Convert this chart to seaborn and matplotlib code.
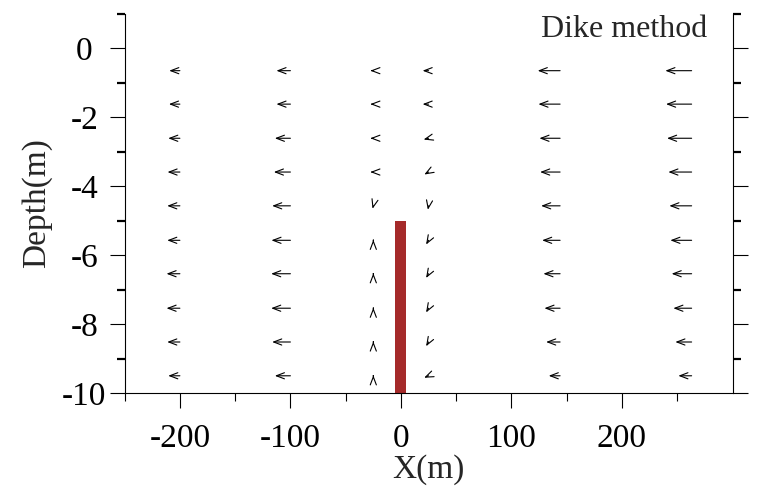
import matplotlib
matplotlib.use("Agg")
import matplotlib.pyplot as plt
import seaborn as sns
from matplotlib.ticker import FixedLocator

# ---- data -------------------------------------------------------------
x_cols = [-200, -100, -25, 25, 144, 263]
depths = [-0.65, -1.62, -2.61, -3.59, -4.57, -5.57, -6.54, -7.54, -8.52, -9.50]

# displacement vectors (horizontal u, vertical v) per column, top row first
u_c1 = [-10.7, -11.0, -11.7, -12.4, -12.7, -12.7, -13.4, -13.4, -12.7, -11.7]
v_c1 = [0, 0, 0, 0, 0, 0, 0, 0, 0, 0]
u_c2 = [-14.0, -14.0, -15.6, -16.6, -18.3, -19.0, -19.3, -19.3, -18.3, -15.6]
v_c2 = [0, 0, 0, 0, 0, 0, 0, 0, 0, 0]
u_c3 = [-3.0, -3.0, -3.0, -3.0, -0.8, 0.0, 0.0, 0.0, 0.0, 0.0]
v_c3 = [0.0, 0.0, 0.0, 0.0, -3.0, 0.5, 0.5, 0.5, 0.5, 0.5]
u_c4 = [-6.0, -6.0, -5.0, -4.3, -0.7, -2.5, -2.5, -2.5, -2.5, -4.5]
v_c4 = [0.0, 0.0, -1.3, -2.5, -4.0, -4.3, -4.3, -4.3, -4.3, -2.0]
u_c5 = [-22.4, -21.7, -20.7, -20.0, -19.0, -18.0, -16.7, -15.7, -14.0, -11.4]
v_c5 = [0, 0, 0, 0, 0, 0, 0, 0, 0, 0]
u_c6 = [-26.3, -25.6, -24.6, -23.3, -22.3, -21.3, -20.0, -18.3, -16.3, -13.3]
v_c6 = [0, 0, 0, 0, 0, 0, 0, 0, 0, 0]

u_cols = [u_c1, u_c2, u_c3, u_c4, u_c5, u_c6]
v_cols = [v_c1, v_c2, v_c3, v_c4, v_c5, v_c6]

dike_x = [0]
dike_width = 10
dike_top = -5
dike_bottom = -10

x_major = [-200, -100, 0, 100, 200]
x_minor = [-250, -150, -50, 50, 150, 250]
y_major = [0, -2, -4, -6, -8, -10]
y_minor = [1, -1, -3, -5, -7, -9]

# ---- style ------------------------------------------------------------
sns.set_theme(style="ticks")
plt.rcParams["font.family"] = ["Liberation Serif", "DejaVu Serif"]
plt.rcParams["axes.unicode_minus"] = False
FS = 24

fig = plt.figure(figsize=(7.59, 4.93), dpi=100)
ax = fig.add_axes([0.1642, 0.2028, 0.8009, 0.7692])

# dike
ax.bar(dike_x, [dike_top - dike_bottom], bottom=dike_bottom, width=dike_width,
       color="#a52a2a", edgecolor="none", zorder=2)

# vectors (tail at grid point, head at tail + vector)
for xc, us, vs in zip(x_cols, u_cols, v_cols):
    for yd, u, v in zip(depths, us, vs):
        ax.annotate("", xy=(xc, yd), xycoords="data",
                    xytext=(u, v), textcoords="offset pixels",
                    arrowprops=dict(arrowstyle="<-,head_length=0.58,head_width=0.22",
                                    mutation_scale=10, lw=0.8, color="black",
                                    shrinkA=0, shrinkB=0),
                    zorder=3)

ax.set_xlim(-250, 300)
ax.set_ylim(-10, 1)

ax.xaxis.set_major_locator(FixedLocator(x_major))
ax.xaxis.set_minor_locator(FixedLocator(x_minor))
ax.yaxis.set_major_locator(FixedLocator(y_major))
ax.yaxis.set_minor_locator(FixedLocator(y_minor))

sns.despine(ax=ax, top=True, right=False, left=False, bottom=False)
for s in ["left", "right", "bottom"]:
    ax.spines[s].set_linewidth(0.8)
    ax.spines[s].set_color("black")

ax.tick_params(axis="x", which="both", direction="out", bottom=True, top=False,
               colors="black", labelsize=FS, pad=11)
ax.tick_params(axis="x", which="major", length=11, width=0.8)
ax.tick_params(axis="x", which="minor", length=5.5, width=0.8)
ax.tick_params(axis="y", which="both", direction="out", left=True, right=True,
               labelleft=True, labelright=False, colors="black", labelsize=FS, pad=18)
ax.tick_params(axis="y", which="major", length=11, width=0.8)
ax.tick_params(axis="y", which="minor", length=5.5, width=1.6)
for lab in ax.get_yticklabels():
    lab.set_horizontalalignment("center")

ax.set_xlabel("X(m)", fontsize=FS, labelpad=0)
ax.set_ylabel("Depth(m)", fontsize=FS, labelpad=7)

ax.text(0.958, 0.9396, "Dike method", transform=ax.transAxes,
        ha="right", va="baseline", fontsize=23)

fig.savefig("out.png", dpi=100)
